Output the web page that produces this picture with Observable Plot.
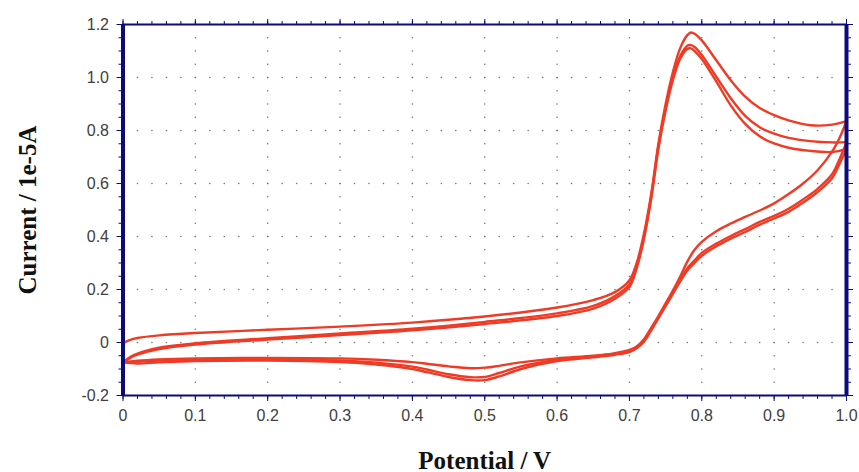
<!DOCTYPE html>
<html><head><meta charset="utf-8">
<script src="https://cdn.jsdelivr.net/npm/d3@7"></script>
<script src="https://cdn.jsdelivr.net/npm/@observablehq/plot@0.6"></script>
<style>html,body{margin:0;padding:0;background:#fff;}</style>
</head><body><div id="chart"></div>
<script>
// ---- Data ----
const xTitle = "Potential / V";
const yTitle = "Current / 1e-5A";
const xDomain = [0, 1];
const yDomain = [-0.2, 1.2];
const xMajor = [0, 0.1, 0.2, 0.3, 0.4, 0.5, 0.6, 0.7, 0.8, 0.9, 1.0];
const xTickLabels = ["0", "0.1", "0.2", "0.3", "0.4", "0.5", "0.6", "0.7", "0.8", "0.9", "1.0"];
const yMajor = [-0.2, 0, 0.2, 0.4, 0.6, 0.8, 1.0, 1.2];
const yTickLabels = ["-0.2", "0", "0.2", "0.4", "0.6", "0.8", "1.0", "1.2"];
const xMinorStep = 0.02;
const yMinorStep = 0.05;

// Forward (anodic) sweep potentials, V
const fwdE = [0, 0.01, 0.02, 0.05, 0.1, 0.2, 0.3, 0.4, 0.5, 0.6, 0.65, 0.68, 0.7, 0.71, 0.72, 0.73, 0.74, 0.75, 0.76, 0.77, 0.78, 0.785, 0.79, 0.8, 0.82, 0.84, 0.86, 0.88, 0.9, 0.92, 0.95, 0.98, 1.0];
const cycle1Fwd = [-0.003, 0.01, 0.017, 0.027, 0.036, 0.048, 0.06, 0.075, 0.098, 0.132, 0.16, 0.19, 0.235, 0.3, 0.41, 0.56, 0.75, 0.9, 1.02, 1.11, 1.16, 1.17, 1.165, 1.14, 1.065, 0.99, 0.928, 0.885, 0.858, 0.838, 0.82, 0.822, 0.835];
const cycle2Fwd = [-0.075, -0.055, -0.042, -0.02, -0.003, 0.016, 0.034, 0.052, 0.078, 0.11, 0.138, 0.175, 0.22, 0.29, 0.4, 0.55, 0.74, 0.885, 1.0, 1.08, 1.12, 1.122, 1.115, 1.085, 1.003, 0.922, 0.855, 0.812, 0.788, 0.772, 0.76, 0.755, 0.756];
const cycle3Fwd = [-0.075, -0.058, -0.046, -0.025, -0.008, 0.011, 0.028, 0.046, 0.07, 0.1, 0.128, 0.165, 0.21, 0.28, 0.39, 0.54, 0.73, 0.875, 0.99, 1.07, 1.108, 1.11, 1.1, 1.07, 0.985, 0.895, 0.825, 0.778, 0.751, 0.735, 0.723, 0.719, 0.73];

// Reverse (cathodic) sweep potentials, V
const revE = [1.0, 0.99, 0.98, 0.96, 0.94, 0.92, 0.9, 0.88, 0.86, 0.84, 0.82, 0.8, 0.79, 0.78, 0.77, 0.76, 0.75, 0.74, 0.73, 0.72, 0.71, 0.7, 0.68, 0.65, 0.6, 0.55, 0.52, 0.5, 0.48, 0.45, 0.42, 0.4, 0.35, 0.3, 0.2, 0.1, 0.05, 0.02, 0];
const cycle1Rev = [0.835, 0.77, 0.72, 0.65, 0.6, 0.56, 0.525, 0.498, 0.474, 0.449, 0.42, 0.38, 0.35, 0.305, 0.248, 0.196, 0.148, 0.1, 0.055, 0.012, -0.015, -0.028, -0.04, -0.05, -0.06, -0.075, -0.088, -0.095, -0.097, -0.09, -0.08, -0.074, -0.065, -0.06, -0.058, -0.06, -0.064, -0.069, -0.075];
const cycle2Rev = [0.756, 0.69, 0.635, 0.58, 0.54, 0.505, 0.478, 0.455, 0.428, 0.402, 0.373, 0.338, 0.31, 0.28, 0.235, 0.188, 0.142, 0.096, 0.05, 0.008, -0.018, -0.032, -0.042, -0.052, -0.066, -0.09, -0.115, -0.13, -0.131, -0.12, -0.102, -0.091, -0.076, -0.068, -0.063, -0.064, -0.068, -0.072, -0.075];
const cycle3Rev = [0.73, 0.672, 0.62, 0.568, 0.528, 0.493, 0.468, 0.445, 0.417, 0.392, 0.363, 0.327, 0.3, 0.272, 0.23, 0.183, 0.137, 0.091, 0.045, 0.003, -0.022, -0.036, -0.046, -0.056, -0.07, -0.1, -0.128, -0.142, -0.142, -0.13, -0.112, -0.1, -0.083, -0.074, -0.068, -0.07, -0.075, -0.079, -0.075];

// ---- Build table ----
const segments = [
  ["c1f", fwdE, cycle1Fwd], ["c1r", revE, cycle1Rev],
  ["c2f", fwdE, cycle2Fwd], ["c2r", revE, cycle2Rev],
  ["c3f", fwdE, cycle3Fwd], ["c3r", revE, cycle3Rev]
];
const rows = segments.flatMap(([seg, E, I]) => E.map((e, i) => ({seg, E: e, I: I[i]})));

const xMinor = d3.range(Math.round((xDomain[1] - xDomain[0]) / xMinorStep) + 1).map(i => +(xDomain[0] + i * xMinorStep).toFixed(4));
const yMinor = d3.range(Math.round((yDomain[1] - yDomain[0]) / yMinorStep) + 1).map(i => +(yDomain[0] + i * yMinorStep).toFixed(4));
const xGridLines = xMajor.slice(1, -1);
const yGridLines = yMajor.slice(1, -1);
const gridDots = [
  ...xGridLines.flatMap(x => yMinor.slice(1, -1).map(y => ({x, y}))),
  ...yGridLines.flatMap(y => xMinor.slice(1, -1).map(x => ({x, y})))
];
const xLab = new Map(xMajor.map((d, i) => [d, xTickLabels[i]]));
const yLab = new Map(yMajor.map((d, i) => [d, yTickLabels[i]]));

const navy = "#0b0b7d";
const red = "#ef3b26";
const labelColor = "#404040";
const serif = "'Liberation Serif', 'Times New Roman', serif";

const chart = Plot.plot({
  width: 859,
  height: 472,
  marginLeft: 122.5,
  marginRight: 13,
  marginTop: 24,
  marginBottom: 77,
  style: {fontFamily: "'Liberation Sans', Arial, sans-serif", fontSize: "16px", background: "#fff"},
  x: {domain: xDomain},
  y: {domain: yDomain},
  marks: [
    Plot.dot(gridDots, {x: "x", y: "y", r: 0.8, fill: "#6f786f", stroke: null}),
    Plot.line(rows, {x: "E", y: "I", z: "seg", stroke: red, strokeWidth: 2.4, curve: "catmull-rom"}),
    // ticks
    Plot.axisX({anchor: "bottom", ticks: xMajor, tickSize: 6, tickPadding: 8, tickFormat: d => xLab.get(d), stroke: navy, fill: labelColor, label: null, fontSize: 16}),
    Plot.axisX({anchor: "bottom", ticks: xMinor, tickSize: 4, stroke: navy, fill: "none", label: null}),
    Plot.axisX({anchor: "top", ticks: xMajor, tickSize: 6, stroke: navy, fill: "none", label: null}),
    Plot.axisX({anchor: "top", ticks: xMinor, tickSize: 4, stroke: navy, fill: "none", label: null}),
    Plot.axisY({anchor: "left", ticks: yMajor, tickSize: 6, tickPadding: 8, tickFormat: d => yLab.get(d), stroke: navy, fill: labelColor, label: null, fontSize: 16}),
    Plot.axisY({anchor: "left", ticks: yMinor, tickSize: 4, stroke: navy, fill: "none", label: null}),
    Plot.axisY({anchor: "right", ticks: yMajor, tickSize: 6, stroke: navy, fill: "none", label: null}),
    Plot.axisY({anchor: "right", ticks: yMinor, tickSize: 4, stroke: navy, fill: "none", label: null}),
    // frame
    Plot.ruleY(yDomain, {stroke: navy, strokeWidth: 2}),
    Plot.ruleX(xDomain, {stroke: navy, strokeWidth: 4}),
    // titles
    Plot.text([xTitle], {frameAnchor: "bottom", dy: 65, lineAnchor: "middle", textAnchor: "middle", fontFamily: serif, fontWeight: "bold", fontSize: 25, fill: "#111"}),
    Plot.text([yTitle], {frameAnchor: "left", dx: -95, rotate: -90, lineAnchor: "middle", textAnchor: "middle", fontFamily: serif, fontWeight: "bold", fontSize: 25, fill: "#111"})
  ]
});
document.getElementById("chart").append(chart);
</script></body></html>
